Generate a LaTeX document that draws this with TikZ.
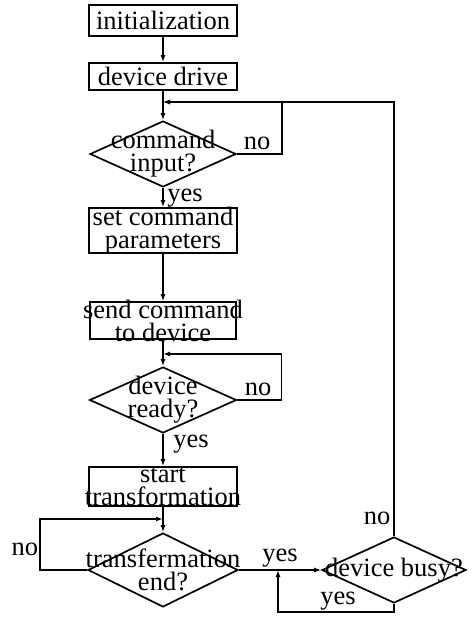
\documentclass[tikz,border=0pt]{standalone}
\usepackage{fontspec}
\setmainfont{Liberation Serif}
\usetikzlibrary{shapes.geometric,arrows.meta,positioning}
\newcommand{\flowfont}{\fontsize{26.5}{23}\selectfont}
\tikzset{
  flowbox/.style = {draw, rectangle, line width=1.7pt, inner sep=0pt, minimum width=148pt},
  flowtest/.style = {draw, diamond, line width=1.7pt, inner sep=0pt, minimum width=146pt, minimum height=66pt},
  flowtext/.style = {font=\flowfont, align=center, inner sep=0pt},
  flowline/.style = {line width=1.7pt, -{Latex[length=7pt,width=5pt]}},
  answer/.style = {font=\flowfont, inner sep=0pt},
}

\begin{document}
\begin{tikzpicture}[x=1pt, y=-1pt]
\useasboundingbox (0,0) rectangle (476,621);

% Main column
\node[flowbox, minimum height=31pt, label={[flowtext]center:initialization}] (init) at (163,20.5) {};
\node[flowbox, minimum height=27pt, label={[flowtext]center:device drive}] (drive) at (163,76.5) {};
\node[flowtest, label={[flowtext]center:command\\input?}] (cmd) at (163,154) {};
\node[flowbox, minimum height=45pt, label={[flowtext]center:set command\\parameters}] (setp) at (163,230.5) {};
\node[flowbox, minimum height=37pt, minimum width=146pt, label={[flowtext]center:send command\\to device}] (send) at (163,320.5) {};
\node[flowtest, minimum width=147pt, label={[flowtext]center:device\\ready?}] (ready) at (163,400) {};
\node[flowbox, minimum height=39pt, label={[flowtext]center:start\\transformation}] (start) at (163,486.5) {};
\node[flowtest, minimum width=150pt, minimum height=74pt, label={[flowtext]center:transfermation\\end?}] (tend) at (163,570) {};

% Busy check
\node[flowtest, minimum width=144pt, label={[flowtext]center:device busy?}] (busy) at (394,570) {};

% Join points
\coordinate (j1) at (163,102);
\coordinate (j2) at (163,354);
\coordinate (j3) at (163,519);
\coordinate (busyin) at (278,570);

% Straight arrows
\draw[flowline] (init) -- (drive);
\draw[flowline] (drive) -- (cmd);
\draw[flowline] (cmd) -- (setp);
\draw[flowline] (setp) -- (send);
\draw[flowline] (send) -- (ready);
\draw[flowline] (ready) -- (start);
\draw[flowline] (start) -- (tend);
\draw[flowline] (tend) -- (busy);

% Loops back
\draw[flowline] (cmd.east) -- ++(45,0) |- (j1);
\draw[flowline] (ready.east) -- ++(44,0) |- (j2);
\draw[flowline] (tend.west) -- ++(-47,0) |- (j3);
\draw[flowline] (busy.north) |- (j1);
\draw[flowline] (busy.south) -- ++(0,8) -| (busyin);

% Answers
\node[answer] (no1) at (257,143) {no};
\node[answer] (yes1) at (185,198) {yes};
\node[answer] (no2) at (258,389) {no};
\node[answer] (yes2) at (191,444) {yes};
\node[answer] (no3) at (25,549) {no};
\node[answer] (yes3) at (280,558) {yes};
\node[answer] (no4) at (377,518) {no};
\node[answer] (yes4) at (338,601) {yes};

\end{tikzpicture}
\end{document}
